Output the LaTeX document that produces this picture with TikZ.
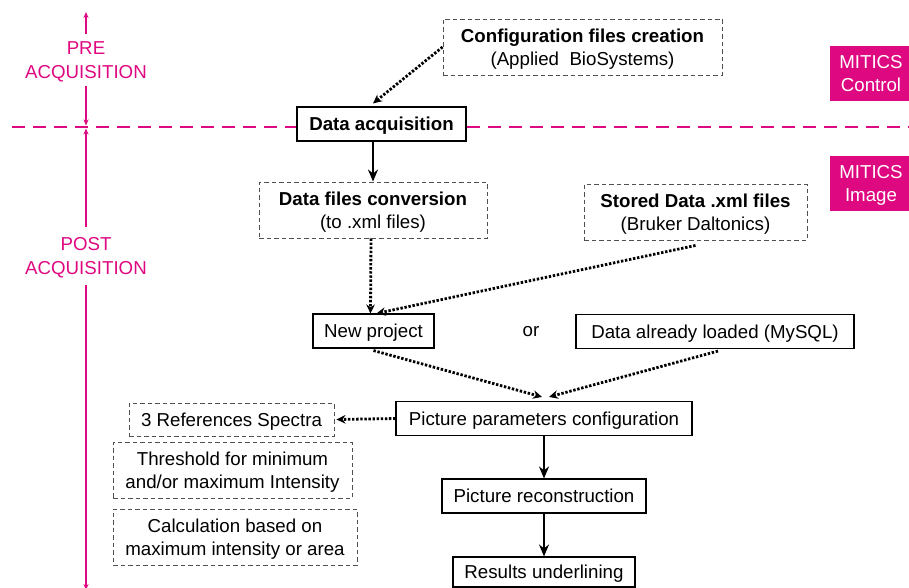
\documentclass[tikz,border=0pt]{standalone}
\usepackage{fontspec}
\setmainfont{Liberation Sans}
\usetikzlibrary{arrows.meta}
\definecolor{mitics}{RGB}{222,8,128}
\definecolor{dashgray}{RGB}{80,80,80}
\begin{document}
\begin{tikzpicture}[x=1pt,y=-1pt,
  font=\fontsize{18.7}{23.5}\selectfont,
  solidbox/.style={draw=black, line width=1.1pt, inner sep=0pt, align=center, text depth=0pt},
  dashbox/.style={draw=dashgray, line width=0.9pt, dash pattern=on 4.5pt off 3pt, inner sep=0pt, align=center, text depth=0pt},
  magbox/.style={fill=mitics, text=white, inner sep=0pt, align=center, text depth=0pt, minimum width=82pt, minimum height=55pt},
  phase/.style={text=mitics, align=center, inner xsep=0pt, text depth=0pt},
  axis/.style={draw=mitics, line width=1.8pt},
  axtip/.style={axis, -{Stealth[length=6pt,width=5pt]}},
  magdash/.style={draw=mitics, line width=2.5pt, dash pattern=on 13pt off 8pt},
  dotarrow/.style={line width=2.8pt, dash pattern=on 2.4pt off 1.7pt, -{Stealth[length=9pt,width=8.5pt]}},
  solidarrow/.style={line width=2.5pt, -{Stealth[length=12pt,width=10pt]}},
]
\useasboundingbox (0,0) rectangle (909,588);

% pre / post acquisition axis
\node[phase, inner ysep=8pt]  (pre)  at (86,60) {PRE\\ACQUISITION};
\node[phase, inner ysep=11pt] (post) at (86,256)  {POST\\ACQUISITION};
\coordinate (axtop) at (86,12);
\coordinate (axcut) at (86,127);
\coordinate (axbot) at (86,590);
\draw[axtip] (pre.north) -- (axtop);
\draw[axtip, shorten >=1.5pt] (pre.south) -- (axcut);
\draw[axtip, shorten >=1.5pt] (post.north) -- (axcut);
\draw[axtip] (post.south) -- (axbot);

% MITICS modules
\node[magbox] (ctrl) at (871,73.5) {MITICS\\Control};
\node[magbox] (img)  at (871,183.5) {MITICS\\Image};

% acquisition stage
\node[dashbox, minimum width=279pt, minimum height=56pt] (cfg) at (582.5,47)
  {\textbf{Configuration files creation}\\(Applied\ \ BioSystems)};
\node[solidbox, minimum width=169pt, minimum height=34pt] (acq) at (381.5,124)
  {\textbf{Data acquisition}};

% boundary between the two phases
\coordinate (dleft)  at (12,127);
\coordinate (dright) at (912,127);
\draw[magdash] (dleft) -- (dleft -| acq.west);
\draw[magdash] (dright -| acq.east) -- (dright);

% data sources
\node[dashbox, minimum width=228pt, minimum height=56pt] (conv) at (373,210)
  {\textbf{Data files conversion}\\(to .xml files)};
\node[dashbox, minimum width=223pt, minimum height=56pt] (stored) at (695.5,212)
  {\textbf{Stored Data .xml files}\\(Bruker Daltonics)};
\node[solidbox, minimum width=121pt, minimum height=34pt] (newp) at (373.5,331) {New project};
\node[text depth=0pt] (or) at (531,331) {or};
\node[solidbox, minimum width=278pt, minimum height=34pt] (loaded) at (715,331.5)
  {Data already loaded (MySQL)};

% picture processing
\node[solidbox, minimum width=296pt, minimum height=34pt] (params) at (544,418.5)
  {Picture parameters configuration};
\node[dashbox, minimum width=205pt, minimum height=33pt] (refs) at (231.5,419.5)
  {3 References Spectra};
\node[dashbox, minimum width=239pt, minimum height=56pt] (thr) at (232.5,470)
  {Threshold for minimum\\and/or maximum Intensity};
\node[dashbox, minimum width=244pt, minimum height=56pt] (calc) at (235,537)
  {Calculation based on\\maximum intensity or area};
\node[solidbox, minimum width=204pt, minimum height=34pt] (recon) at (544,496)
  {Picture reconstruction};
\node[solidbox, minimum width=182pt, minimum height=30pt] (res) at (544,572)
  {Results underlining};

% connectors
\draw[dotarrow] (cfg.west) -- ([yshift=3pt]acq.north -| conv.north);
\draw[solidarrow] (conv.north |- acq.south) -- (conv.north);
\draw[dotarrow] ([xshift=-2pt]conv.south) -- ([xshift=-3pt]newp.north);
\draw[dotarrow] ([yshift=-5pt]stored.south) -- ([xshift=3pt]newp.north);
\draw[dotarrow] ([yshift=-2pt]newp.south) -- ([xshift=-2pt,yshift=4pt]params.north);
\draw[dotarrow] ([xshift=3pt,yshift=-2pt]loaded.south) -- ([xshift=5pt,yshift=4pt]params.north);
\draw[dotarrow] (params.west) -- ([xshift=2pt]refs.east);
\draw[solidarrow] (params.south) -- (recon.north);
\draw[solidarrow] (recon.south) -- (res.north);
\end{tikzpicture}
\end{document}
